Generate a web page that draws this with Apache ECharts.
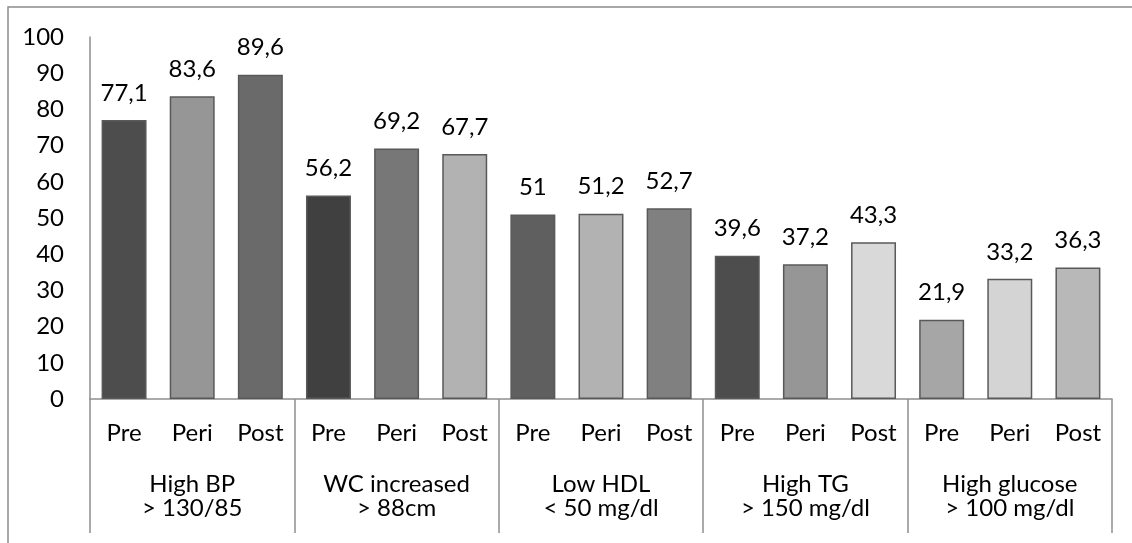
<!DOCTYPE html>
<html>
<head>
<meta charset="utf-8">
<script src="https://cdn.jsdelivr.net/npm/echarts@6/dist/echarts.min.js"></script>
<style>
  html, body { margin: 0; padding: 0; background: #ffffff; }
  #chart { width: 1132px; height: 543px; }
</style>
</head>
<body>
<div id="chart"></div>
<script>
// Prevalence (%) of metabolic syndrome components by menopausal stage
const stages = ['Pre', 'Peri', 'Post'];
const groups = ['High BP\n> 130/85', 'WC increased\n> 88cm', 'Low HDL\n< 50 mg/dl', 'High TG\n> 150 mg/dl', 'High glucose\n> 100 mg/dl'];
const highBP = [77.1, 83.6, 89.6];
const wcIncreased = [56.2, 69.2, 67.7];
const lowHDL = [51, 51.2, 52.7];
const highTG = [39.6, 37.2, 43.3];
const highGlucose = [21.9, 33.2, 36.3];
const yTicks = [0, 10, 20, 30, 40, 50, 60, 70, 80, 90, 100];

// Fill shade of each bar, per group
const shades = [
  ['#4d4d4d', '#969696', '#6a6a6a'],
  ['#404040', '#777777', '#b2b2b2'],
  ['#5f5f5f', '#b2b2b2', '#808080'],
  ['#4d4d4d', '#969696', '#d9d9d9'],
  ['#a6a6a6', '#d4d4d4', '#b8b8b8']
];

const groupValues = [highBP, wcIncreased, lowHDL, highTG, highGlucose];
const stageLabels = [];
const barData = [];
groupValues.forEach((vals, g) => {
  vals.forEach((v, i) => {
    stageLabels.push(stages[i]);
    barData.push({
      value: v,
      itemStyle: { color: shades[g][i], borderColor: '#595959', borderWidth: 1.5 }
    });
  });
});

const font = 'Lato, "Liberation Sans", sans-serif';
const fs = 24;
const lineGray = '#8e8e8e';

const chart = echarts.init(document.getElementById('chart'), null, { renderer: 'canvas' });
chart.setOption({
  animation: false,
  backgroundColor: '#ffffff',
  textStyle: { fontFamily: font },
  grid: { left: 90, right: 20, top: 37, bottom: 144, containLabel: false },
  graphic: [{
    type: 'rect',
    shape: { x: 8, y: 7, width: 1400, height: 800 },
    style: { fill: 'none', stroke: '#8c8c8c', lineWidth: 1.5 },
    silent: true
  }],
  xAxis: [{
    type: 'category',
    data: stageLabels,
    position: 'bottom',
    axisLine: { show: true, lineStyle: { color: lineGray, width: 1.5 } },
    axisTick: { show: false },
    axisLabel: { interval: 0, margin: 22, fontSize: fs, color: '#000000', fontFamily: font }
  }, {
    type: 'category',
    data: groups,
    position: 'bottom',
    axisLine: { show: false },
    axisTick: { show: true, length: 134, interval: 0, lineStyle: { color: lineGray, width: 1.5 } },
    axisLabel: { interval: 0, margin: 73, fontSize: fs, lineHeight: 24, color: '#000000', fontFamily: font, align: 'center' }
  }],
  yAxis: {
    type: 'value',
    min: yTicks[0],
    max: yTicks[yTicks.length - 1],
    interval: 10,
    axisLine: { show: true, lineStyle: { color: lineGray, width: 1.5 } },
    axisTick: { show: false },
    splitLine: { show: false },
    axisLabel: { margin: 26, fontSize: fs, color: '#000000', fontFamily: font }
  },
  series: [{
    type: 'bar',
    xAxisIndex: 0,
    data: barData,
    barWidth: '66%',
    label: {
      show: true,
      position: 'top',
      distance: 15,
      fontSize: fs,
      color: '#000000',
      fontFamily: font,
      formatter: p => String(p.value).replace('.', ',')
    }
  }]
});
</script>
</body>
</html>
